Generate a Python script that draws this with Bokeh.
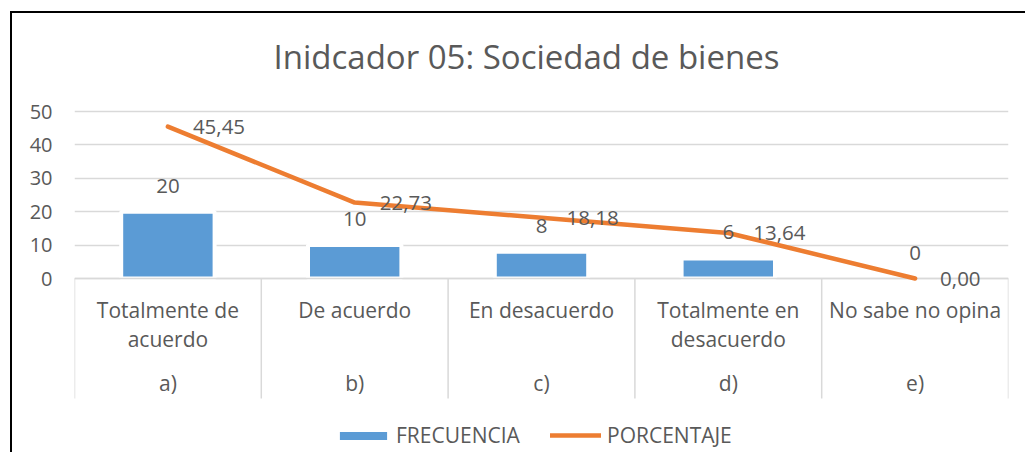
from bokeh.plotting import figure
from bokeh.models import Range1d, FixedTicker, Legend, LegendItem
from bokeh.core.properties import value
from bokeh.embed import file_html
from bokeh.resources import INLINE

# ---- data ----
TITLE = "Inidcador 05: Sociedad de bienes"
CATEGORIAS = ["Totalmente de\nacuerdo", "De acuerdo", "En desacuerdo",
              "Totalmente en\ndesacuerdo", "No sabe no opina"]
LETRAS = ["a)", "b)", "c)", "d)", "e)"]
FRECUENCIA = [20, 10, 8, 6, 0]
PORCENTAJE = [45.45, 22.73, 18.18, 13.64, 0.00]
Y_TICKS = [0, 10, 20, 30, 40, 50]
SERIES = ["FRECUENCIA", "PORCENTAJE"]

# ---- styling / layout constants ----
FONT_NAME = "Open Sans"
FONT = value(FONT_NAME)
TXT = "#595959"
GRID = "#D9D9D9"
BLUE = "#5B9BD5"
ORANGE = "#ED7D31"

W, H = 1023, 449
FRAME_TOP, FRAME_BOTTOM = 0, 444
FRAME_LEFT, FRAME_RIGHT = 62, 996
ZERO_PX = 265
PPU = 3.34

n = len(CATEGORIAS)
centers = [i + 0.5 for i in range(n)]
bounds = list(range(n + 1))

p = figure(width=W, height=H, output_backend="svg", toolbar_location=None,
           x_range=Range1d(0, n),
           y_range=Range1d(-(FRAME_BOTTOM - ZERO_PX) / PPU, (ZERO_PX - FRAME_TOP) / PPU),
           min_border_left=FRAME_LEFT, min_border_right=W - FRAME_RIGHT,
           min_border_top=FRAME_TOP, min_border_bottom=H - FRAME_BOTTOM,
           x_axis_location=None)
p.title = None
p.styles = {"margin-left": "12px", "margin-top": "13px",
            "box-shadow": "-6px -6px 0 -4px black"}
p.outline_line_color = None
p.background_fill_color = "white"
p.border_fill_color = "white"

p.xgrid.visible = False
p.ygrid.ticker = FixedTicker(ticks=Y_TICKS)
p.ygrid.grid_line_color = GRID
p.ygrid.grid_line_width = 1.5

ax = p.yaxis[0]
ax.ticker = FixedTicker(ticks=Y_TICKS)
ax.axis_line_color = None
ax.major_tick_line_color = None
ax.minor_tick_line_color = None
ax.major_tick_out = 0
ax.major_label_standoff = 22
ax.major_label_text_font = FONT_NAME
ax.major_label_text_font_size = "20px"
ax.major_label_text_color = TXT

# chart title (positioned in pixels from the plot origin)
p.text(x=[0], y=[0], text=[TITLE], text_font=FONT, text_font_size="33px",
       text_color=TXT, text_align="center", text_baseline="middle",
       x_offset=452, y_offset=-222)

bar_alpha = [1 if v > 0 else 0 for v in FRECUENCIA]
bars = p.vbar(x=centers, top=FRECUENCIA, width=0.5, bottom=0,
              fill_color=BLUE, line_color="white", line_width=4,
              line_alpha=bar_alpha)

# horizontal category axis line and separators
p.segment(x0=[0], x1=[n], y0=[0], y1=[0], line_color=GRID, line_width=1.5)
sep_bottom = -(398 - 278) / PPU
p.segment(x0=bounds, x1=bounds, y0=[0] * len(bounds), y1=[sep_bottom] * len(bounds),
          line_color=GRID, line_width=1.5)

line = p.line(x=centers, y=PORCENTAJE, line_color=ORANGE, line_width=4.5,
              line_cap="round", line_join="round")

# data labels
p.text(x=centers, y=FRECUENCIA, text=[str(v) for v in FRECUENCIA],
       text_font=FONT, text_font_size="20.5px", text_color=TXT,
       text_align="center", text_baseline="alphabetic", y_offset=-26)
p.text(x=centers, y=PORCENTAJE, text=[f"{v:.2f}".replace(".", ",") for v in PORCENTAJE],
       text_font=FONT, text_font_size="20.5px", text_color=TXT,
       text_align="left", text_baseline="middle", x_offset=25, y_offset=0)

# category labels
line1 = [c.split("\n")[0] for c in CATEGORIAS]
line2 = [c.split("\n")[1] if "\n" in c else "" for c in CATEGORIAS]
zeros = [0] * n
for txt, off in ((line1, 31), (line2, 60), (LETRAS, 104)):
    p.text(x=centers, y=zeros, text=txt, text_font=FONT, text_font_size="21px",
           text_color=TXT, text_align="center", text_baseline="alphabetic",
           y_offset=off)

common = dict(orientation="horizontal", padding=0, margin=0,
              border_line_alpha=0, background_fill_alpha=0,
              label_text_font=FONT_NAME, label_text_font_size="21px",
              label_text_color=TXT)
leg_bar = Legend(items=[LegendItem(label=SERIES[0], renderers=[bars])],
                 location=(257, 8), label_standoff=1,
                 glyph_width=64, glyph_height=15, **common)
leg_line = Legend(items=[LegendItem(label=SERIES[1], renderers=[line])],
                  location=(476, 8), label_standoff=6,
                  glyph_width=51, glyph_height=12, **common)
p.add_layout(leg_bar)
p.add_layout(leg_line)

open("out.html", "w").write(file_html(p, INLINE))
